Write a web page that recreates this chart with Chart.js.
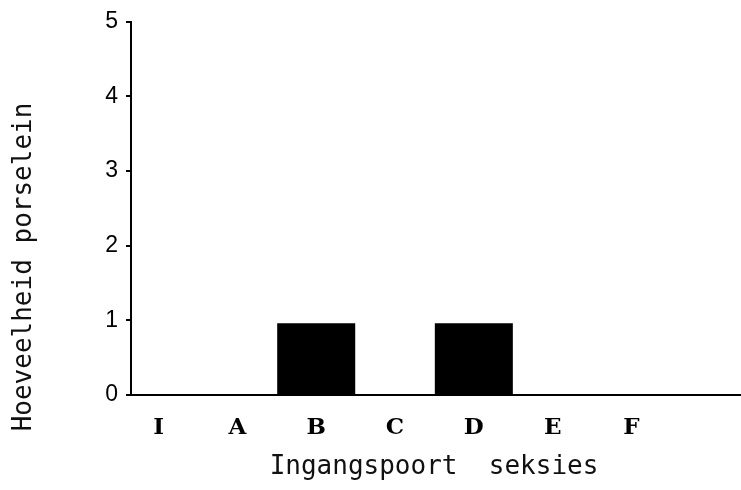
<!DOCTYPE html>
<html>
<head>
<meta charset="utf-8">
<script src="https://cdn.jsdelivr.net/npm/chart.js@4/dist/chart.umd.min.js"></script>
<style>
  body { margin: 0; background: #fff; }
</style>
</head>
<body>
<canvas id="chart" width="741" height="490"></canvas>
<script>
// Data
const sections = ['I', 'A', 'B', 'C', 'D', 'E', 'F'];
const porcelain = [0, 0, 0.96, 0, 0.96, 0, 0];
const yTicks = [0, 1, 2, 3, 4, 5];
const xTitle = 'Ingangspoort  seksies';
const yTitle = 'Hoeveelheid porselein';

// Axis titles drawn by hand so they can sit where the original puts them
const titlePlugin = {
    id: 'titles',
    afterDraw(chart) {
        const ctx = chart.ctx;
        ctx.save();
        ctx.fillStyle = '#111';
        ctx.font = '26px "DejaVu Sans Mono"';
        ctx.textAlign = 'center';
        ctx.textBaseline = 'middle';
        ctx.fillText(xTitle, 434, 467);
        ctx.translate(24, 267);
        ctx.rotate(-Math.PI / 2);
        ctx.fillText(yTitle, 0, 0);
        ctx.restore();
    }
};

new Chart(document.getElementById('chart'), {
    type: 'bar',
    data: {
        datasets: [{
            data: sections.map((s, i) => ({ x: i, y: porcelain[i] })),
            backgroundColor: '#000',
            borderWidth: 0,
            categoryPercentage: 1,
            barPercentage: 0.99
        }]
    },
    options: {
        responsive: false,
        animation: false,
        layout: { padding: { top: 10, left: 0, right: 0, bottom: 0 } },
        plugins: { legend: { display: false }, tooltip: { enabled: false } },
        scales: {
            x: {
                type: 'linear',
                offset: false,
                min: -0.35,
                max: 7.39,
                afterBuildTicks: (scale) => {
                    scale.ticks = sections.map((s, i) => ({ value: i }));
                },
                afterFit: (scale) => { scale.height = 95; },
                grid: { drawOnChartArea: false, drawTicks: false },
                border: { color: '#000', width: 2 },
                ticks: {
                    autoSkip: false,
                    maxRotation: 0,
                    padding: 19,
                    color: '#000',
                    font: { family: '"DejaVu Serif"', size: 23, weight: 'bold' },
                    callback: (v) => sections[v] ?? ''
                }
            },
            y: {
                min: 0,
                max: 5,
                afterBuildTicks: (scale) => {
                    scale.ticks = yTicks.map(v => ({ value: v }));
                },
                afterFit: (scale) => { scale.width = 131; },
                grid: { drawOnChartArea: false, drawTicks: true, tickLength: 5, color: '#000', lineWidth: 2 },
                border: { color: '#000', width: 2 },
                ticks: {
                    padding: 8,
                    color: '#000',
                    font: { family: '"Liberation Sans"', size: 23 }
                }
            }
        }
    },
    plugins: [titlePlugin]
});
</script>
</body>
</html>
